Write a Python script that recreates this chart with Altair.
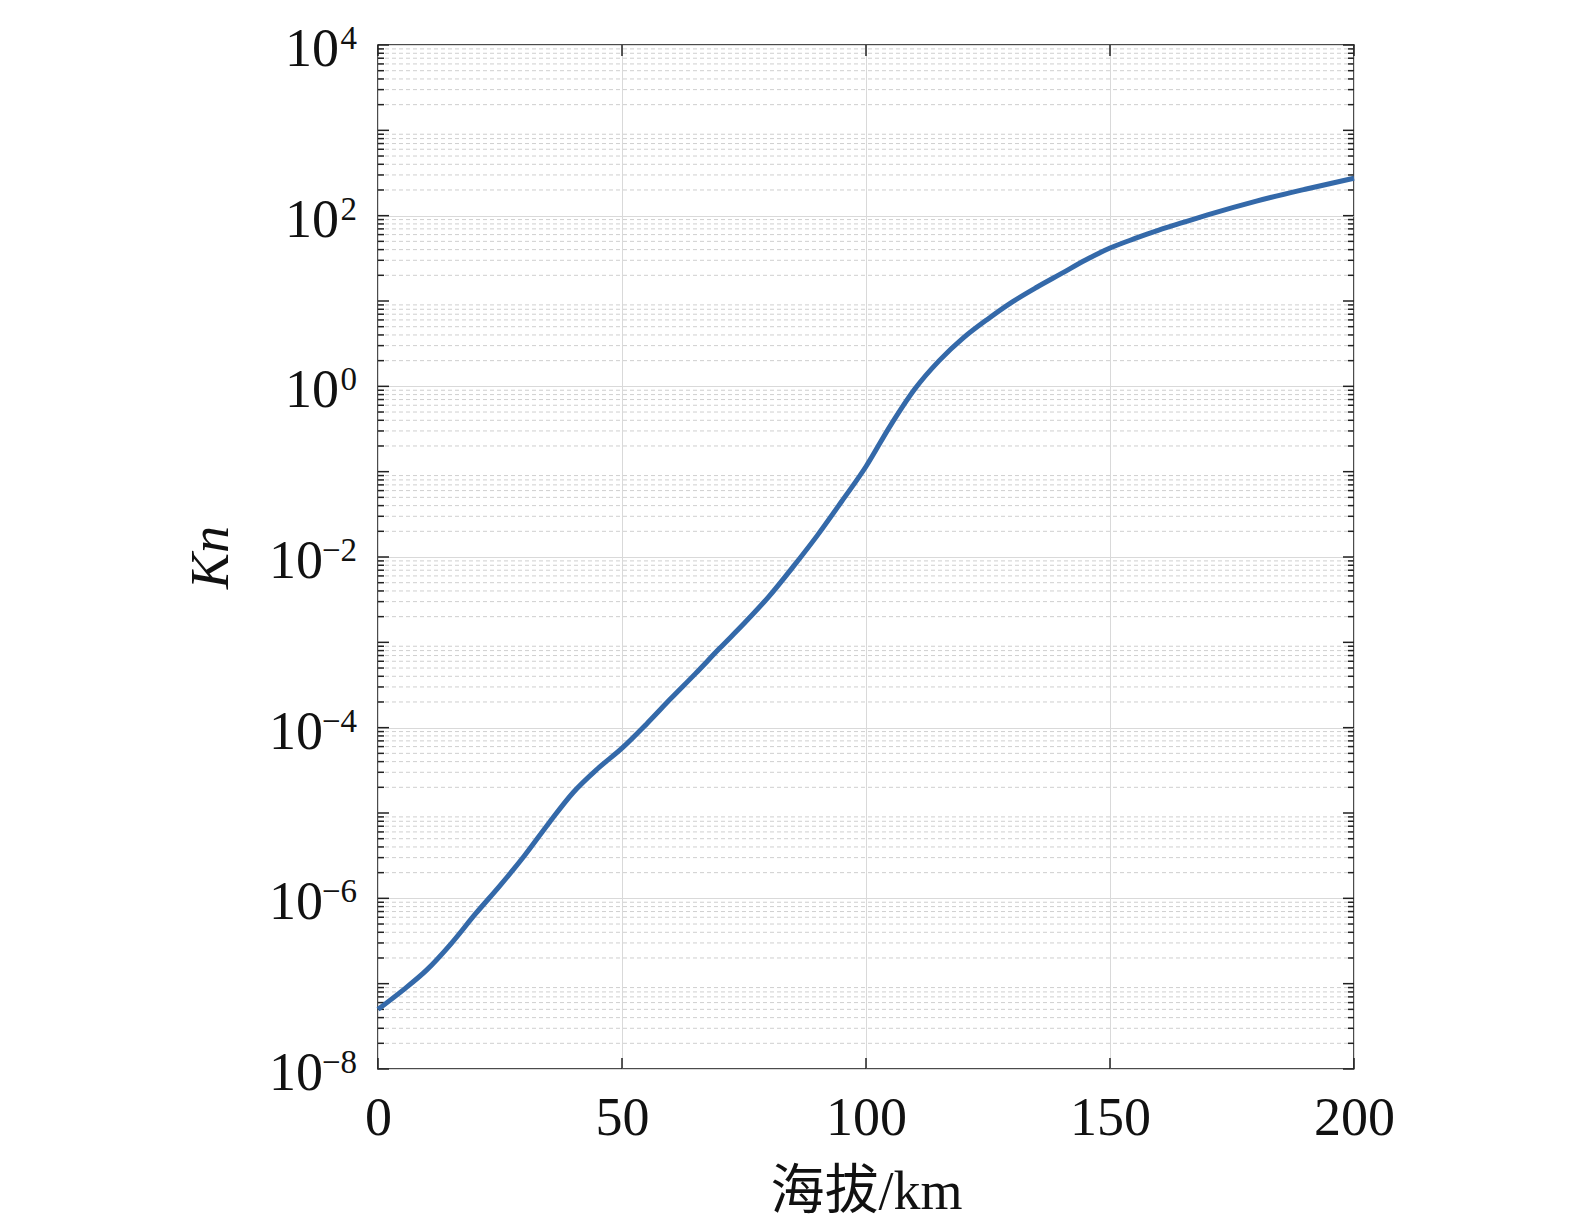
import altair as alt
import pandas as pd

# ---- data ----
altitude_km = [0, 5, 10, 15, 20, 25, 30, 35, 40, 45, 50, 55, 60, 65, 70, 75, 80, 85, 90,
               95, 100, 105, 110, 115, 120, 125, 130, 135, 140, 145, 150, 155, 160, 165, 170,
               180, 190, 200]
kn_values = [5.0e-8, 8.3e-8, 1.45e-7, 2.95e-7, 6.6e-7, 1.41e-6, 3.16e-6, 7.6e-6, 1.74e-5,
             3.3e-5, 5.75e-5, 1.10e-4, 2.19e-4, 4.27e-4, 8.5e-4, 1.66e-3, 3.39e-3, 7.6e-3,
             1.78e-2, 4.47e-2, 0.115, 0.347, 0.93, 2.0, 3.72, 6.17, 9.77, 14.5, 20.9, 30.2,
             41.7, 53.7, 67.6, 83.2, 102, 148, 204, 275]

x_ticks = [0, 50, 100, 150, 200]
y_major = [1e-8, 1e-6, 1e-4, 1e-2, 1e0, 1e2, 1e4]
y_label_base = ["10", "10", "10", "10", "10", "10", "10"]
y_label_exp = ["−8", "−6", "−4", "−2", "0", "2", "4"]
y_decades = [1e-8, 1e-7, 1e-6, 1e-5, 1e-4, 1e-3, 1e-2, 1e-1, 1e0, 1e1, 1e2, 1e3, 1e4]
y_minor = [m * d for d in y_decades[:-1] for m in range(2, 10)]

W, H = 976, 1024
FONT = "Liberation Serif, Times New Roman, Noto Sans CJK SC"
LINE_COLOR = "#3469a9"
TEXT_COLOR = "#111"
X_TITLE = "海拔/km"
Y_TITLE = "Kn"

df = pd.DataFrame({"alt": altitude_km, "kn": kn_values})
minor_df = pd.DataFrame({"kn": y_minor})
decade_df = pd.DataFrame({"kn": y_decades})
xt_df = pd.DataFrame({"alt": x_ticks})
lab_df = pd.DataFrame({"kn": y_major, "base": y_label_base, "exp": y_label_exp})

xscale = alt.Scale(domain=[0, 200], nice=False, zero=False)
yscale = alt.Scale(type="log", domain=[1e-8, 1e4], nice=False)

x_axis = alt.Axis(values=x_ticks, title=X_TITLE, grid=True, gridColor="#d9d9d9",
                  gridWidth=1, ticks=False, domain=False, labelFont=FONT,
                  labelFontSize=54, labelColor=TEXT_COLOR, labelPadding=22,
                  titleFont=FONT, titleFontSize=54, titleFontWeight="normal",
                  titleColor=TEXT_COLOR, titlePadding=20, labelFlush=False)
y_axis = alt.Axis(values=y_major, labels=False, title=Y_TITLE, grid=True,
                  gridColor="#d9d9d9", gridWidth=1, ticks=False, domain=False,
                  titleFont=FONT, titleFontSize=54, titleFontStyle="italic",
                  titleFontWeight="normal", titleColor=TEXT_COLOR, titlePadding=140)


def Y():
    return alt.Y("kn:Q", scale=yscale, axis=y_axis, title=Y_TITLE)


def X():
    return alt.X("alt:Q", scale=xscale, axis=x_axis, title=X_TITLE)


line = alt.Chart(df).mark_line(color=LINE_COLOR, strokeWidth=5, interpolate="monotone").encode(
    x=X(), y=Y())

minor_grid = alt.Chart(minor_df).mark_rule(color="#cfcfcf", strokeWidth=1, strokeDash=[4, 3]).encode(
    y=Y(), x=alt.value(0), x2=alt.value(W))

tick_color = "#222"
minor_l = alt.Chart(minor_df).mark_rule(color=tick_color, strokeWidth=1.5).encode(
    y=Y(), x=alt.value(0), x2=alt.value(6))
minor_r = alt.Chart(minor_df).mark_rule(color=tick_color, strokeWidth=1.5).encode(
    y=Y(), x=alt.value(W - 6), x2=alt.value(W))
major_l = alt.Chart(decade_df).mark_rule(color=tick_color, strokeWidth=1.5).encode(
    y=Y(), x=alt.value(0), x2=alt.value(11))
major_r = alt.Chart(decade_df).mark_rule(color=tick_color, strokeWidth=1.5).encode(
    y=Y(), x=alt.value(W - 11), x2=alt.value(W))
xt_b = alt.Chart(xt_df).mark_rule(color=tick_color, strokeWidth=1.5).encode(
    x=X(), y=alt.value(H - 11), y2=alt.value(H))
xt_t = alt.Chart(xt_df).mark_rule(color=tick_color, strokeWidth=1.5).encode(
    x=X(), y=alt.value(0), y2=alt.value(11))

# y tick labels: "10" with a raised, smaller exponent
lab_base = alt.Chart(lab_df).transform_calculate(
    bx="indexof(datum.exp, '−') >= 0 ? -55 : -39"
).mark_text(font=FONT, fontSize=54, align="right", baseline="alphabetic", dy=21,
            color=TEXT_COLOR).encode(
    y=Y(), x=alt.X("bx:Q", scale=None), text="base:N")
lab_exp = alt.Chart(lab_df).mark_text(font=FONT, fontSize=33, align="right",
                                      baseline="alphabetic", dy=4, color=TEXT_COLOR).encode(
    y=Y(), x=alt.value(-21), text="exp:N")

chart = alt.layer(
    minor_grid, minor_l, minor_r, major_l, major_r, xt_b, xt_t, lab_base, lab_exp, line
).properties(
    width=W, height=H, background="white",
    padding={"left": 176, "top": 15, "right": 5, "bottom": 5},
).configure_view(
    stroke="#111", strokeWidth=1.5
)

chart.save("out.html", embed_options={"renderer": "svg", "actions": False})
